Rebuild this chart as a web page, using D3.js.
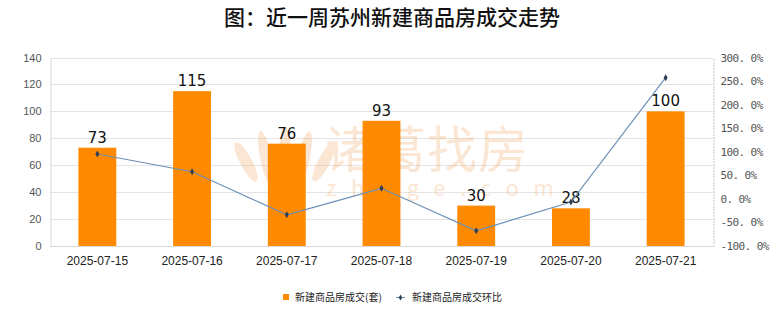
<!DOCTYPE html>
<html>
<head>
<meta charset="utf-8">
<script src="https://cdn.jsdelivr.net/npm/d3@7"></script>
<style>
  html, body { margin: 0; padding: 0; background: #fff; }
  svg { display: block; font-family: "Noto Sans CJK SC", "Noto Sans", sans-serif; }
</style>
</head>
<body>
<svg id="chart" width="780" height="328"></svg>
<script>
// Weekly new-home transactions in Suzhou
const dates = ["2025-07-15", "2025-07-16", "2025-07-17", "2025-07-18", "2025-07-19", "2025-07-20", "2025-07-21"];
const units = [73, 115, 76, 93, 30, 28, 100];
const changePct = [95.2, 57.5, -33.9, 22.4, -67.7, -6.7, 257.1];
const leftTicks = [0, 20, 40, 60, 80, 100, 120, 140];
const rightTicks = [-100, -50, 0, 50, 100, 150, 200, 250, 300];

const svg = d3.select("#chart");
const m = { left: 50, right: 713, top: 57.5, bottom: 246 };

const x = d3.scaleBand().domain(dates).range([m.left, m.right]).paddingInner(0.6).paddingOuter(0.3);
const xc = d => x(d) + x.bandwidth() / 2;
const y = d3.scaleLinear().domain([0, 140]).range([m.bottom, m.top]);
const y2 = d3.scaleLinear().domain([-100, 300]).range([m.bottom, m.top]);

// Title
svg.append("text")
  .attr("x", 392).attr("y", 25)
  .attr("text-anchor", "middle")
  .attr("font-size", 21).attr("font-weight", 500).attr("fill", "#111")
  .text("图：近一周苏州新建商品房成交走势");

// Horizontal grid lines
svg.append("g").selectAll("line").data(leftTicks.slice(1)).join("line")
  .attr("x1", m.left).attr("x2", m.right)
  .attr("y1", d => Math.round(y(d)) + 0.5).attr("y2", d => Math.round(y(d)) + 0.5)
  .attr("stroke", "#e4e4e4").attr("stroke-width", 1);

// Watermark: lotus-like logo plus brand name
const wm = svg.append("g").attr("opacity", 0.26).attr("fill", "#f0a05a");
[[-24, 22, -28], [-12, 28, -12], [0, 32, 0], [12, 28, 12], [24, 22, 28]].forEach(([dx, ry, rot]) => {
  wm.append("ellipse")
    .attr("cx", 285 + dx).attr("cy", 158)
    .attr("rx", 6).attr("ry", ry)
    .attr("transform", `rotate(${rot} ${285 + dx} 190)`);
});
wm.append("text").attr("x", 325).attr("y", 168)
  .attr("font-size", 50).attr("letter-spacing", 1).text("诸葛找房");
wm.append("text").attr("x", 326).attr("y", 196)
  .attr("font-size", 22).attr("letter-spacing", 14.5).text("zhuge.com");

// Left axis
const gL = svg.append("g").attr("transform", `translate(${m.left + 0.5},0)`)
  .call(d3.axisLeft(y).tickValues(leftTicks).tickSize(0).tickPadding(9));
gL.select(".domain").attr("stroke", "#d9d9d9");
gL.selectAll("text").attr("font-size", 11).attr("fill", "#555").attr("font-family", "Liberation Sans, Arial, sans-serif");

// Bottom axis line
svg.append("line")
  .attr("x1", m.left).attr("x2", m.right)
  .attr("y1", m.bottom + 0.5).attr("y2", m.bottom + 0.5)
  .attr("stroke", "#d9d9d9");

// Right axis
const gR = svg.append("g").attr("transform", `translate(${m.right + 0.5},0)`)
  .call(d3.axisRight(y2).tickValues(rightTicks).tickSize(0).tickPadding(7)
    .tickFormat(d => d.toFixed(1).replace(".", ". ") + "%"));
gR.select(".domain").attr("stroke", "#888").attr("stroke-dasharray", "1,2");
gR.selectAll("text").attr("font-size", 11).attr("fill", "#555").attr("font-family", "DejaVu Sans Mono, monospace").attr("letter-spacing", -0.6);

// Category axis labels
const gB = svg.append("g").attr("transform", `translate(0,${m.bottom})`)
  .call(d3.axisBottom(x).tickSize(0).tickPadding(10));
gB.select(".domain").remove();
gB.selectAll("text").attr("font-size", 12).attr("fill", "#222").attr("font-family", "Liberation Sans, Arial, sans-serif");

// Bars
svg.append("g").selectAll("rect").data(dates).join("rect")
  .attr("x", d => x(d)).attr("width", x.bandwidth())
  .attr("y", (d, i) => y(units[i])).attr("height", (d, i) => y(0) - y(units[i]))
  .attr("fill", "#ff8a00");

// Bar value labels
svg.append("g").selectAll("text").data(dates).join("text")
  .attr("x", d => xc(d)).attr("y", (d, i) => y(units[i]) - 5)
  .attr("text-anchor", "middle").attr("font-size", 15).attr("fill", "#111")
  .attr("font-family", "DejaVu Sans, sans-serif")
  .text((d, i) => units[i]);

// Change line
const line = d3.line().x(d => xc(d[0])).y(d => y2(d[1]));
const pts = dates.map((d, i) => [d, changePct[i]]);
svg.append("path").datum(pts).attr("d", line)
  .attr("fill", "none").attr("stroke", "#6a8fb5").attr("stroke-width", 1.2);
svg.append("g").selectAll("path").data(pts).join("path")
  .attr("transform", d => `translate(${xc(d[0])},${y2(d[1])})`)
  .attr("d", d3.symbol(d3.symbolDiamond, 14))
  .attr("fill", "#2d3f55");

// Legend
const lg = svg.append("g").attr("font-size", 10).attr("fill", "#222");
lg.append("rect").attr("x", 283).attr("y", 294).attr("width", 6).attr("height", 6).attr("fill", "#ff8a00");
lg.append("text").attr("x", 295).attr("y", 301).text("新建商品房成交(套)");
lg.append("line").attr("x1", 396).attr("x2", 405).attr("y1", 297.5).attr("y2", 297.5).attr("stroke", "#6a8fb5");
lg.append("path").attr("transform", "translate(400.5,297.5)").attr("d", d3.symbol(d3.symbolDiamond, 10)).attr("fill", "#2d3f55");
lg.append("text").attr("x", 412).attr("y", 301).text("新建商品房成交环比");
</script>
</body>
</html>
